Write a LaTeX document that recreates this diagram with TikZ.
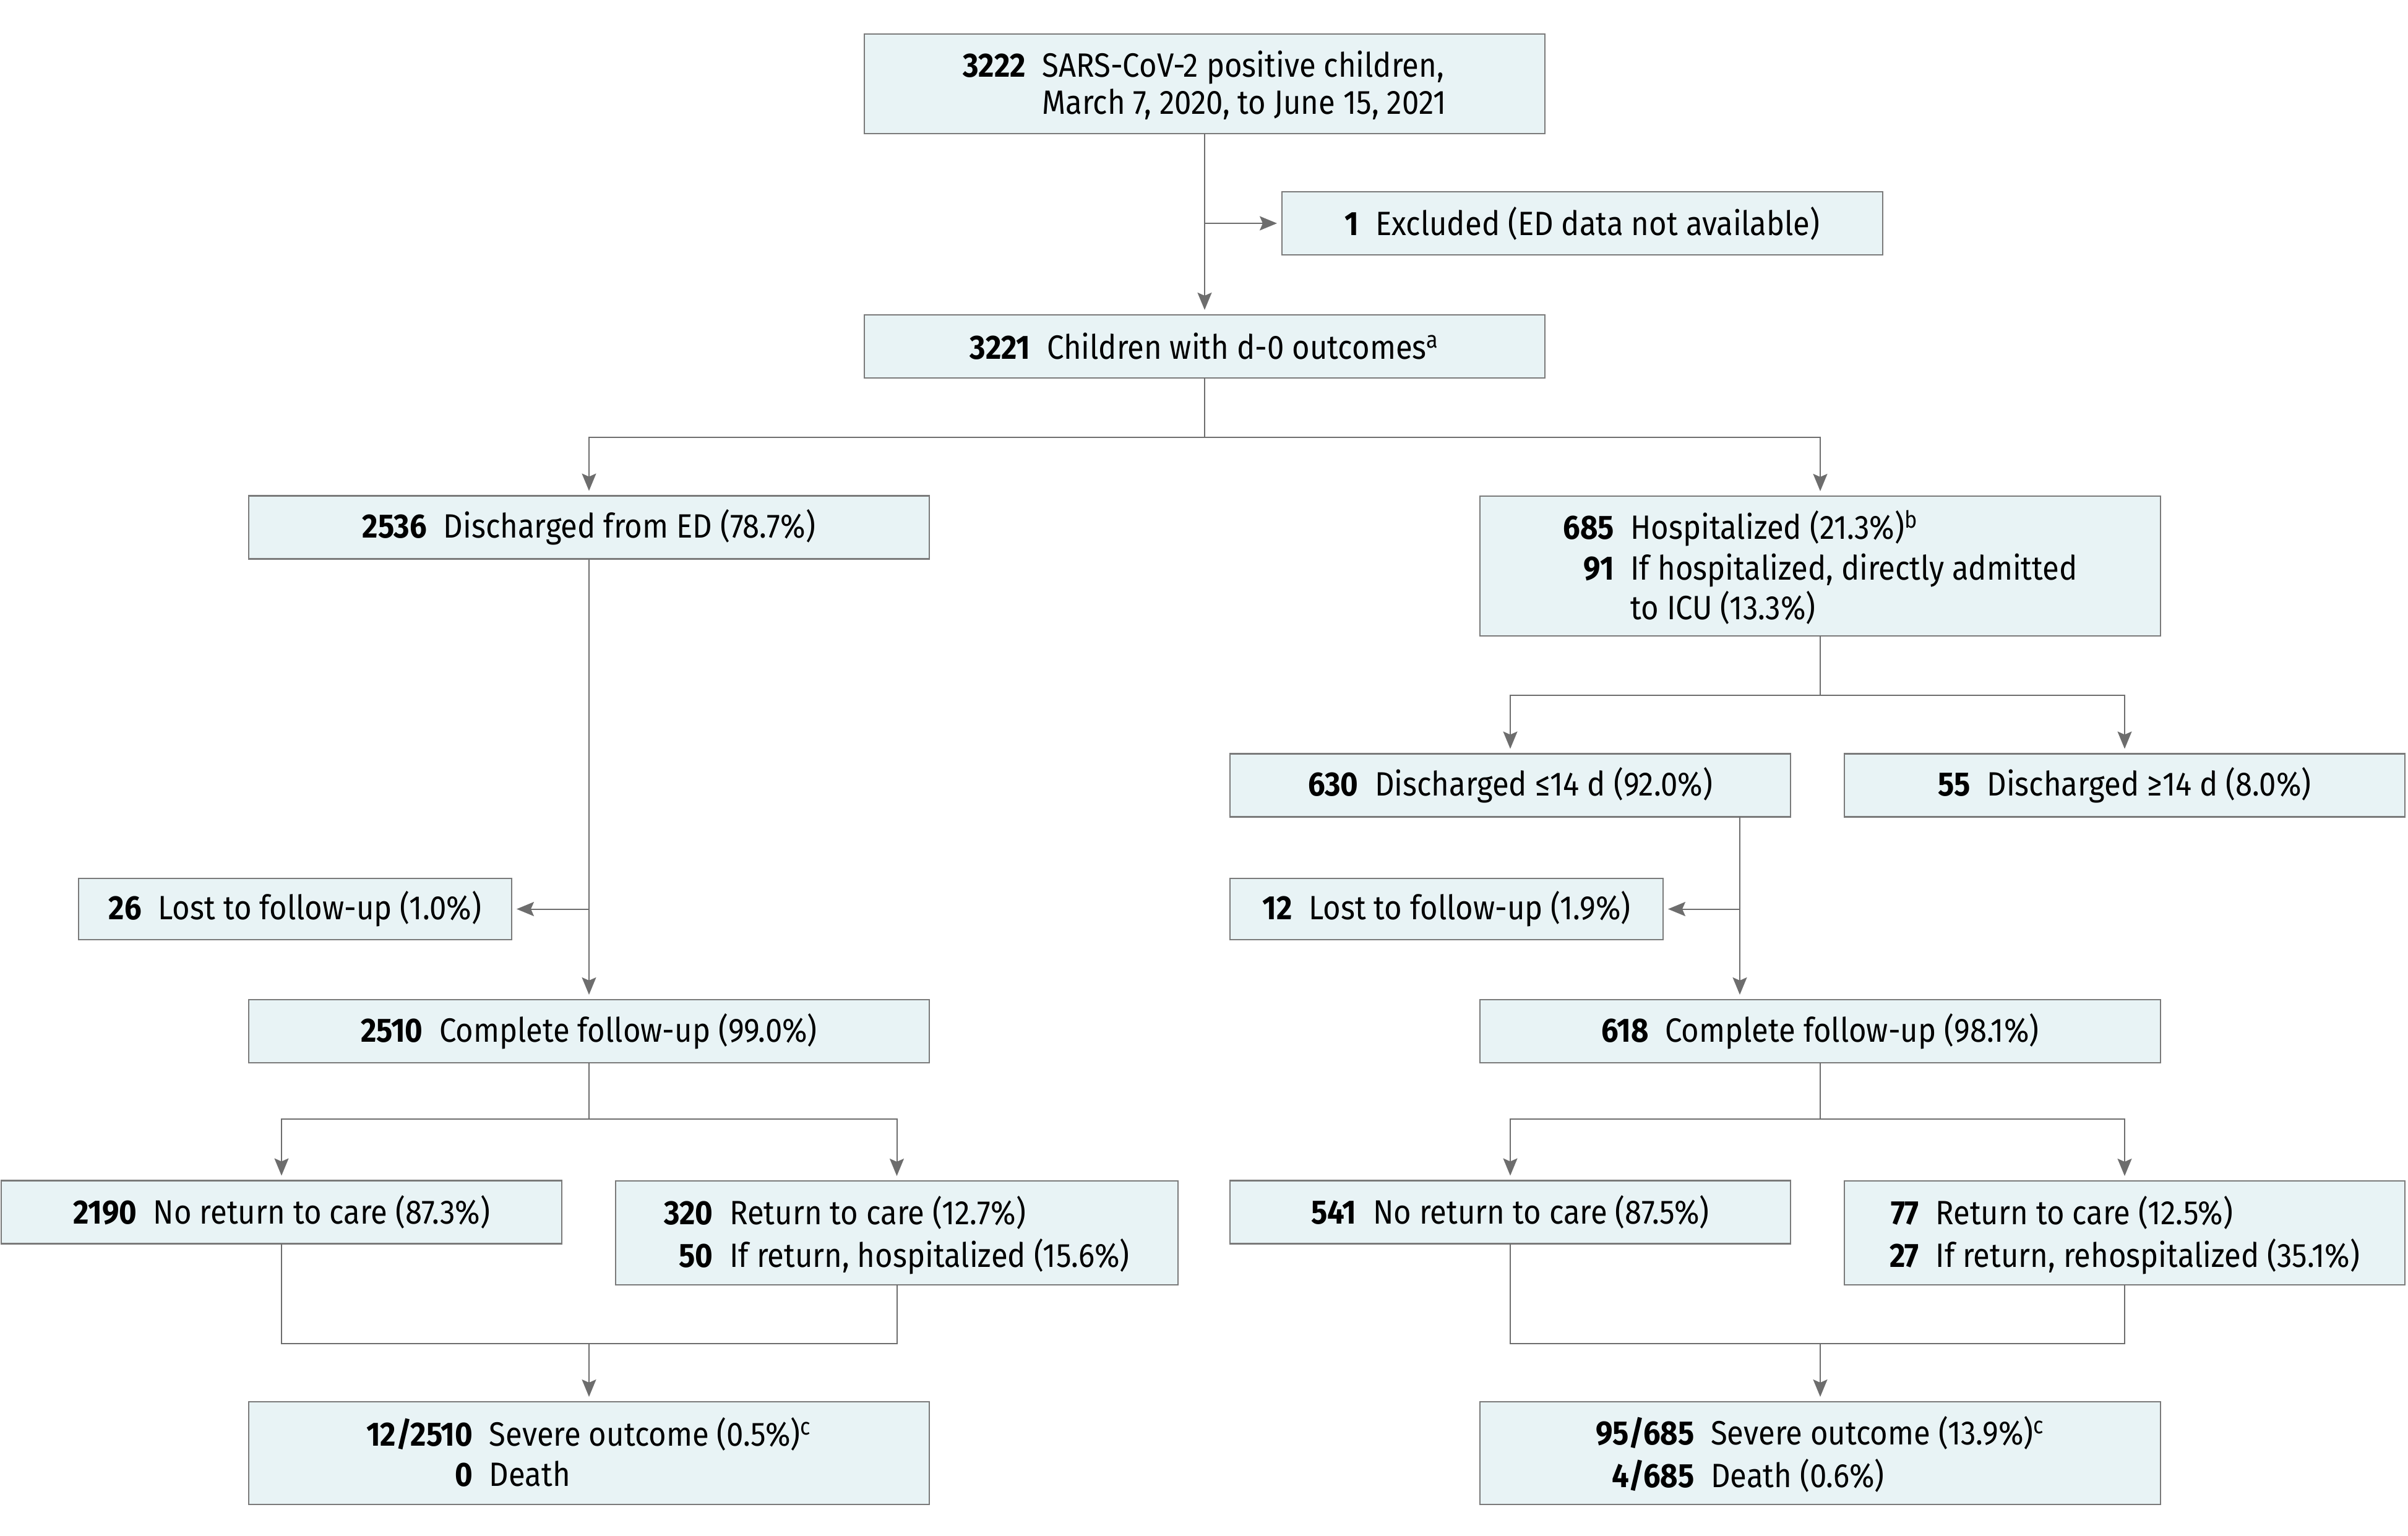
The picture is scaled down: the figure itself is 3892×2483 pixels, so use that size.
\documentclass[tikz,border=0pt]{standalone}
\usepackage{fontspec}
\setmainfont[FakeStretch = 0.9]{Fira Sans}
\usepackage{xcolor}
\usetikzlibrary{arrows.meta,positioning,calc}
\definecolor{boxfill}{HTML}{E8F3F5}
\definecolor{boxline}{HTML}{7A7A7A}
\definecolor{linkgray}{HTML}{6D6D6D}
\newcommand{\boxrows}[1]{\raisebox{-2pt}[\height][\depth]{\begin{tabular}{@{}r@{\hspace{7.6pt}}l@{}}#1\end{tabular}}}

\begin{document}
\begin{tikzpicture}[x = 0.1mm, y = -0.1mm,
  box/.style = {draw = boxline, fill = boxfill, line width = 0.25mm, inner sep = 0pt, outer sep = 0pt,
    minimum width = 110mm, minimum height = 10.2mm, align = center,
    font = \fontsize{15.5}{17}\selectfont},
  link/.style = {draw = linkgray, line width = 0.2mm},
  arr/.style = {link, -{Stealth[length = 2.8mm, width = 2.3mm, inset = 0.5mm]}, shorten > = 0.8mm}]
\useasboundingbox (0,0) rectangle (3892,2483);
\node[box, minimum height = 16.1mm] (pos) at (1947,135.5) {\boxrows{\textbf{3222} & SARS-CoV-2 positive children,\\ & March 7, 2020, to June 15, 2021}};
\node[box, minimum width = 97.1mm] (excl) at (2557.5,361) {\textbf{1}\hspace{7.6pt}Excluded (ED data not available)};
\node[box] (d0) at (1947,560) {\textbf{3221}\hspace{7.6pt}Children with d-0 outcomes\textsuperscript{a}};
\node[box] (dised) at (952,852.5) {\textbf{2536}\hspace{7.6pt}Discharged from ED (78.7\%)};
\node[box, minimum height = 22.6mm] (hosp) at (2942,915) {\boxrows{\textbf{685} & Hospitalized (21.3\%)\textsuperscript{b}\\[1.4pt] \textbf{91} & If hospitalized, directly admitted\\ & to ICU (13.3\%)}};
\node[box, minimum width = 90.6mm] (le14) at (2441,1269.5) {\textbf{630}\hspace{7.6pt}Discharged ≤14 d (92.0\%)};
\node[box, minimum width = 90.6mm] (ge14) at (3434,1269.5) {\textbf{55}\hspace{7.6pt}Discharged ≥14 d (8.0\%)};
\node[box, minimum width = 70mm, minimum height = 9.9mm] (lostL) at (477,1469.5) {\textbf{26}\hspace{7.6pt}Lost to follow-up (1.0\%)};
\node[box, minimum width = 70mm, minimum height = 9.9mm] (lostR) at (2338,1469.5) {\textbf{12}\hspace{7.6pt}Lost to follow-up (1.9\%)};
\node[box] (compL) at (952,1667) {\textbf{2510}\hspace{7.6pt}Complete follow-up (99.0\%)};
\node[box] (compR) at (2942,1667) {\textbf{618}\hspace{7.6pt}Complete follow-up (98.1\%)};
\node[box, minimum width = 90.6mm] (noretL) at (455,1959.5) {\textbf{2190}\hspace{7.6pt}No return to care (87.3\%)};
\node[box, minimum width = 90.9mm, minimum height = 16.8mm] (retL) at (1449.5,1993) {\boxrows{\textbf{320} & Return to care (12.7\%)\\[1.4pt] \textbf{50} & If return, hospitalized (15.6\%)}};
\node[box, minimum width = 90.6mm] (noretR) at (2441,1959.5) {\textbf{541}\hspace{7.6pt}No return to care (87.5\%)};
\node[box, minimum width = 90.6mm, minimum height = 16.8mm] (retR) at (3434,1993) {\boxrows{\textbf{77} & Return to care (12.5\%)\\[1.4pt] \textbf{27} & If return, rehospitalized (35.1\%)}};
\node[box, minimum height = 16.6mm] (sevL) at (952,2349) {\boxrows{\textbf{12/2510} & Severe outcome (0.5\%)\textsuperscript{c}\\[1.4pt] \textbf{0} & Death}};
\node[box, minimum height = 16.6mm] (sevR) at (2942,2349) {\boxrows{\textbf{95/685} & Severe outcome (13.9\%)\textsuperscript{c}\\[1.4pt] \textbf{4/685} & Death (0.6\%)}};
\coordinate (trunk) at (2812,1320);
\draw[arr] (pos) -- (d0);
\draw[arr] (pos.south |- excl.west) -- (excl.west);
\draw[arr] (d0.south) -- ++(0,96) -| (dised.north);
\draw[arr] (d0.south) -- ++(0,96) -| (hosp.north);
\draw[arr] (dised) -- (compL);
\draw[arr] (dised.south |- lostL.east) -- (lostL.east);
\draw[arr] (hosp.south) -- ++(0,96) -| (le14.north);
\draw[arr] (hosp.south) -- ++(0,96) -| (ge14.north);
\draw[arr] (trunk) -- (trunk |- compR.north);
\draw[arr] (trunk |- lostR.east) -- (lostR.east);
\draw[arr] (compL.south) -- ++(0,91) -| (noretL.north);
\draw[arr] (compL.south) -- ++(0,91) -| (retL.north);
\draw[arr] (compR.south) -- ++(0,91) -| (noretR.north);
\draw[arr] (compR.south) -- ++(0,91) -| (retR.north);
\draw[link] (noretL.south) |- (sevL.north |- 0,2172) -| (retL.south);
\draw[arr] (sevL.north |- 0,2172) -- (sevL.north);
\draw[link] (noretR.south) |- (sevR.north |- 0,2172) -| (retR.south);
\draw[arr] (sevR.north |- 0,2172) -- (sevR.north);
\end{tikzpicture}
\end{document}
